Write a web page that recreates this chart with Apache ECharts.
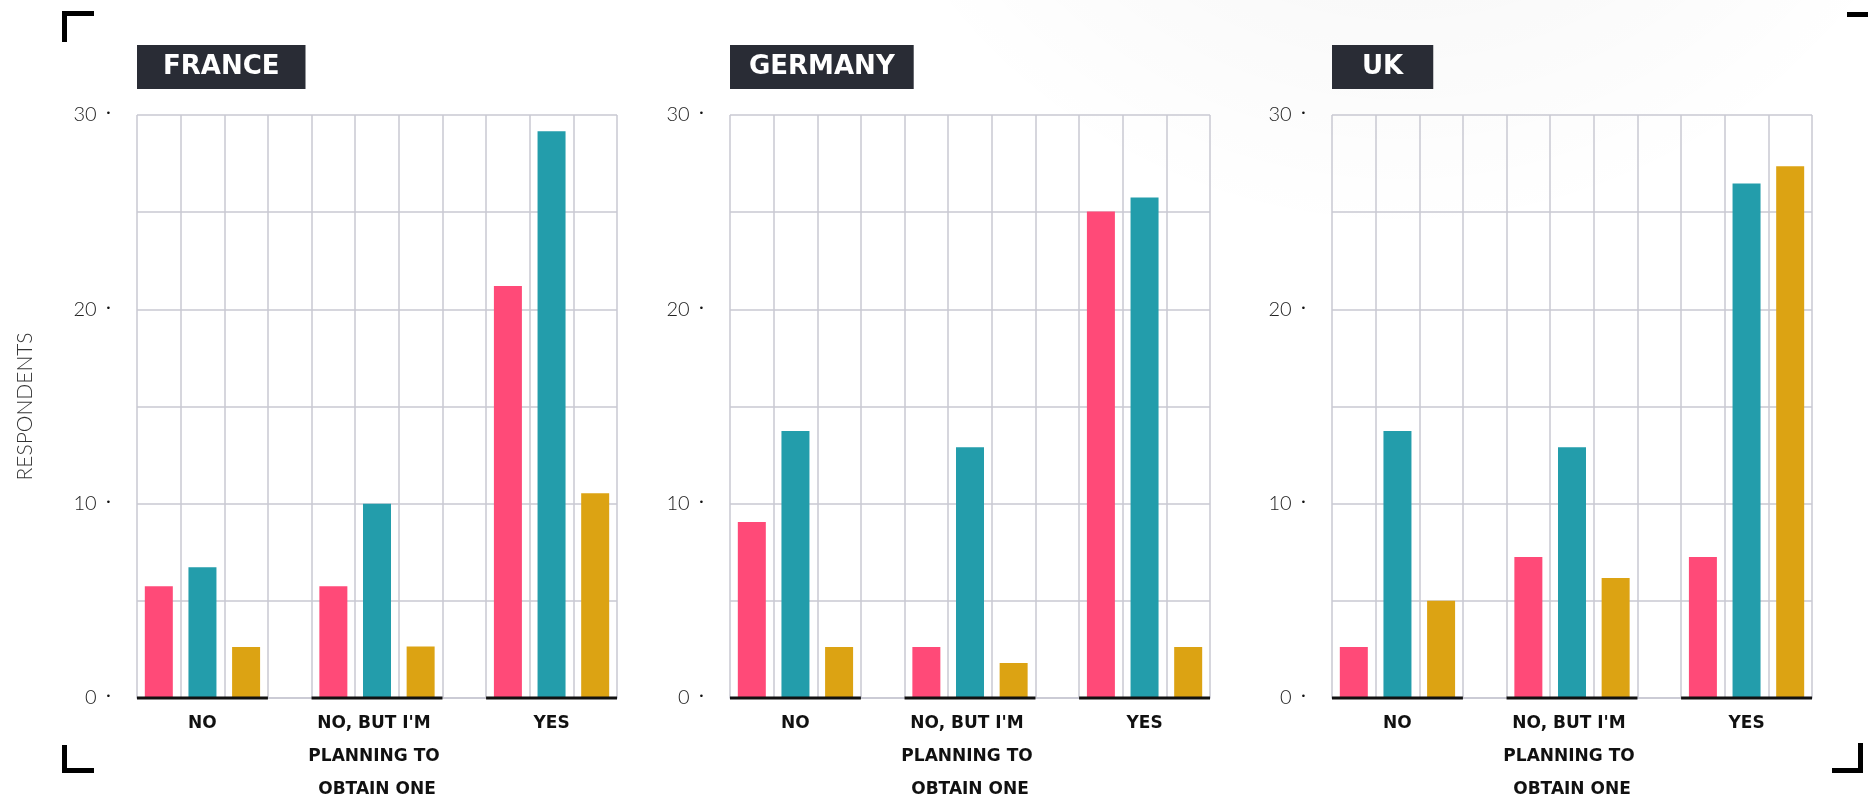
<!DOCTYPE html>
<html>
<head>
<meta charset="utf-8">
<style>
  html, body { margin: 0; padding: 0; background: #fff; }
  #chart { width: 1868px; height: 796px; }
</style>
<script src="https://cdn.jsdelivr.net/npm/echarts@6/dist/echarts.min.js"></script>
</head>
<body>
<div id="chart"></div>
<script>
// Survey answers per country, three respondent groups each
const categories = ["NO", "NO, BUT I'M PLANNING TO OBTAIN ONE", "YES"];
const countries = ["FRANCE", "GERMANY", "UK"];
const yTicks = [0, 10, 20, 30];

const francePink = [5.75, 5.75, 21.2];
const franceTeal = [6.73, 10.0, 29.17];
const franceGold = [2.62, 2.65, 10.53];

const germanyPink = [9.06, 2.62, 25.04];
const germanyTeal = [13.74, 12.9, 25.76];
const germanyGold = [2.62, 1.8, 2.62];

const ukPink = [2.62, 7.26, 7.26];
const ukTeal = [13.74, 12.9, 26.48];
const ukGold = [5.0, 6.18, 27.36];

const countryValues = [
  [francePink, franceTeal, franceGold],
  [germanyPink, germanyTeal, germanyGold],
  [ukPink, ukTeal, ukGold]
];
const seriesColors = ['#ff4a78', '#239dab', '#dca313'];

// Each answer gets three bar slots, answers separated by one empty slot
const SLOTS = 11;
const slotLabels = [];
for (let i = 0; i < SLOTS; i++) {
  slotLabels.push(i % 4 === 1 ? categories[(i - 1) / 4] : '');
}

const gridLefts = [137, 730, 1332];
const titlePadX = [26, 19, 30];
const GRID_TOP = 115, GRID_W = 480, GRID_H = 583;
const gridColor = '#c8c8d2';

const chart = echarts.init(document.getElementById('chart'));

const grids = [], xAxes = [], yAxes = [], series = [], titles = [];

countries.forEach((name, c) => {
  grids.push({
    left: gridLefts[c], top: GRID_TOP, width: GRID_W, height: GRID_H,
    containLabel: false, outerBoundsMode: 'none'
  });

  titles.push({
    text: name,
    left: gridLefts[c],
    top: 45,
    backgroundColor: '#292c35',
    padding: [9, titlePadX[c], 9, titlePadX[c]],
    textStyle: { color: '#fff', fontFamily: 'DejaVu Sans', fontWeight: 'bold', fontSize: 26, lineHeight: 26 }
  });

  // category axis: bar slots, vertical grid lines, answer labels
  xAxes.push({
    type: 'category',
    gridIndex: c,
    data: slotLabels,
    boundaryGap: true,
    axisLine: { lineStyle: { color: gridColor, width: 1.5 } },
    axisTick: { show: false },
    splitLine: { show: true, interval: 0, lineStyle: { color: gridColor, width: 1.5 } },
    axisLabel: {
      interval: 0,
      margin: 9,
      color: '#111',
      fontFamily: 'DejaVu Sans',
      fontWeight: 'bold',
      fontSize: 17,
      lineHeight: 33,
      width: 150,
      overflow: 'break',
      align: 'center'
    }
  });
  // hidden value axis for the black baseline under each answer group
  xAxes.push({
    type: 'value',
    gridIndex: c,
    min: 0,
    max: SLOTS,
    show: false
  });

  yAxes.push({
    type: 'value',
    gridIndex: c,
    min: 0,
    max: 30,
    interval: 5,
    name: c === 0 ? 'RESPONDENTS' : '',
    nameLocation: 'middle',
    nameGap: 101,
    nameRotate: 90,
    nameTextStyle: { color: '#333', fontFamily: 'Lato', fontWeight: 300, fontSize: 21 },
    axisLine: { show: false },
    axisTick: { show: false },
    splitLine: { show: true, lineStyle: { color: gridColor, width: 1.5 } },
    axisLabel: {
      margin: 26,
      formatter: v => (yTicks.indexOf(v) >= 0 ? '{n|' + v + '}{d|•}' : ''),
      rich: {
        n: { color: '#222', fontFamily: 'Lato', fontWeight: 300, fontSize: 20 },
        d: { color: '#111', fontFamily: 'DejaVu Sans', fontSize: 9, padding: [0, 0, 2, 9] }
      }
    }
  });

  countryValues[c].forEach((vals, k) => {
    const data = new Array(SLOTS).fill('-');
    vals.forEach((v, g) => { data[g * 4 + k] = v; });
    series.push({
      type: 'bar',
      name: name + '-' + k,
      xAxisIndex: c * 2,
      yAxisIndex: c,
      data: data,
      barWidth: 28,
      barGap: '-100%',
      itemStyle: { color: seriesColors[k] },
      silent: true
    });
  });

  for (let g = 0; g < categories.length; g++) {
    series.push({
      type: 'line',
      xAxisIndex: c * 2 + 1,
      yAxisIndex: c,
      data: [[g * 4, 0], [g * 4 + 3, 0]],
      symbol: 'none',
      clip: false,
      z: 5,
      silent: true,
      lineStyle: { color: '#111', width: 3 }
    });
  }
});

// corner brackets and a soft shade along the top
const bracket = pts => ({
  type: 'polyline',
  shape: { points: pts },
  style: { stroke: '#000', lineWidth: 5, fill: null, lineCap: 'butt', lineJoin: 'miter' },
  silent: true
});

chart.setOption({
  backgroundColor: '#fff',
  animation: false,
  graphic: [
    {
      type: 'rect',
      shape: { x: 0, y: 0, width: 1868, height: 796 },
      style: {
        fill: new echarts.graphic.RadialGradient(0.75, -0.45, 0.75, [
          { offset: 0, color: 'rgba(0,0,0,0.06)' },
          { offset: 1, color: 'rgba(0,0,0,0)' }
        ])
      },
      z: -10,
      silent: true
    },
    bracket([[64.5, 42], [64.5, 13.5], [94, 13.5]]),
    bracket([[64.5, 745], [64.5, 770.5], [94, 770.5]]),
    bracket([[1847, 14.5], [1880, 14.5], [1880, 45]]),
    bracket([[1832, 770.5], [1860.5, 770.5], [1860.5, 743]])
  ],
  title: titles,
  grid: grids,
  xAxis: xAxes,
  yAxis: yAxes,
  series: series
});
</script>
</body>
</html>
